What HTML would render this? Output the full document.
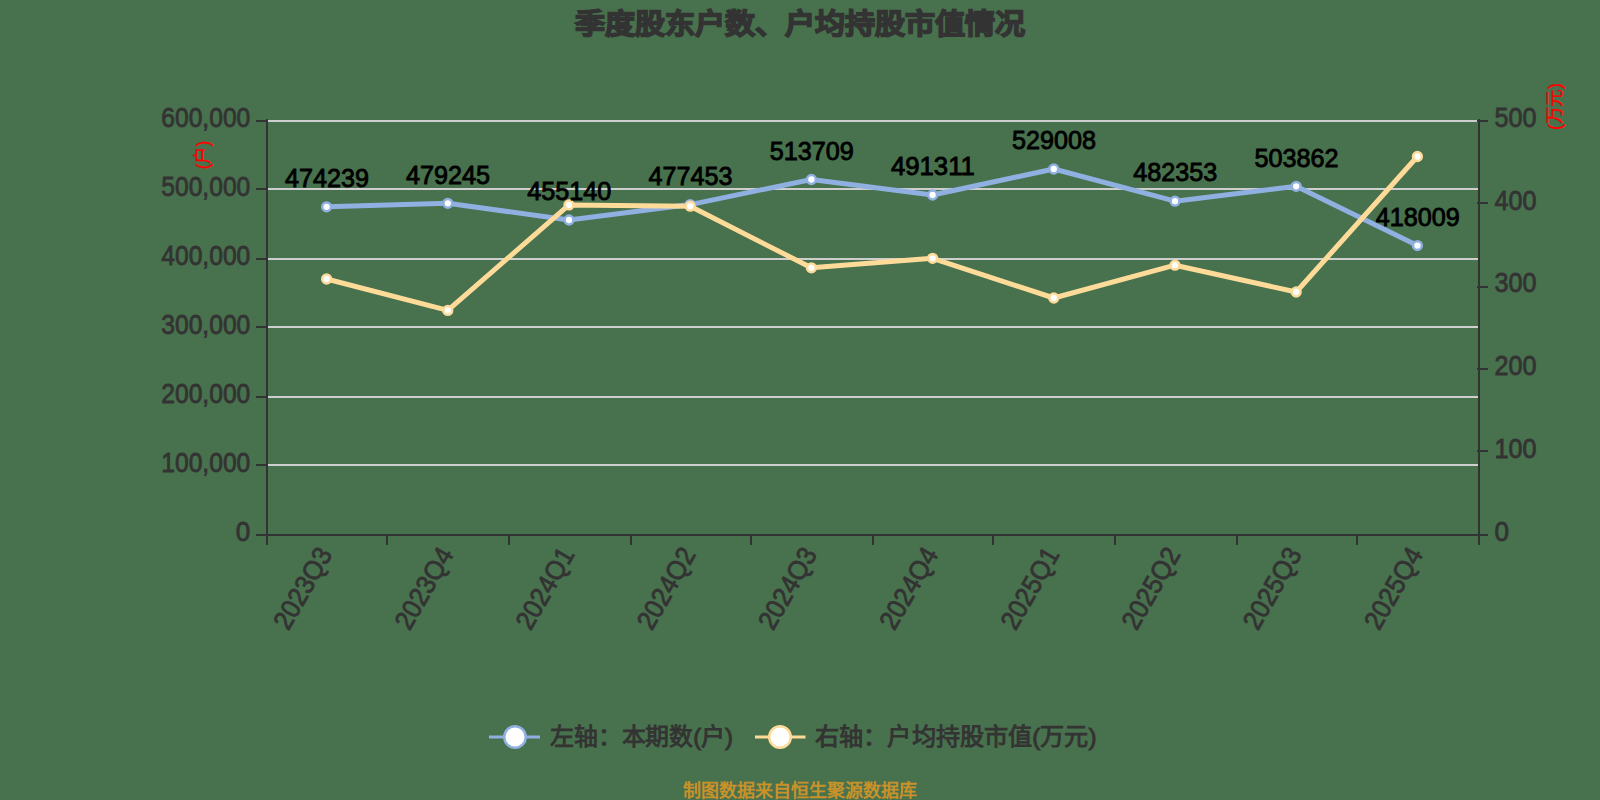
<!DOCTYPE html>
<html lang="zh-CN"><head><meta charset="utf-8"><title>季度股东户数、户均持股市值情况</title>
<style>html,body{margin:0;padding:0;background:#48714D;}body{width:1600px;height:800px;overflow:hidden;}svg{display:block;}text{font-family:"Liberation Sans",sans-serif;}</style>
</head><body>
<svg width="1600" height="800" viewBox="0 0 1600 800">
<rect x="0" y="0" width="1600" height="800" fill="#48714D"/>
<text x="800" y="33.5" text-anchor="middle" font-size="28" font-weight="bold" fill="#333" stroke="#333" stroke-width="1.5" textLength="450" lengthAdjust="spacingAndGlyphs">季度股东户数、户均持股市值情况</text>
<line x1="268" y1="121" x2="1478" y2="121" stroke="#CECECE" stroke-width="2"/>
<line x1="268" y1="189" x2="1478" y2="189" stroke="#CECECE" stroke-width="2"/>
<line x1="268" y1="259" x2="1478" y2="259" stroke="#CECECE" stroke-width="2"/>
<line x1="268" y1="327" x2="1478" y2="327" stroke="#CECECE" stroke-width="2"/>
<line x1="268" y1="397" x2="1478" y2="397" stroke="#CECECE" stroke-width="2"/>
<line x1="268" y1="465" x2="1478" y2="465" stroke="#CECECE" stroke-width="2"/>
<line x1="267" y1="119" x2="267" y2="536" stroke="#333333" stroke-width="2"/>
<line x1="1479" y1="119" x2="1479" y2="536" stroke="#333333" stroke-width="2"/>
<line x1="266" y1="535" x2="1480" y2="535" stroke="#333333" stroke-width="2"/>
<line x1="256" y1="121" x2="267" y2="121" stroke="#333333" stroke-width="2"/>
<text x="250.3" y="126.7" text-anchor="end" font-size="27" fill="#333" stroke="#333" stroke-width="0.8" textLength="89" lengthAdjust="spacingAndGlyphs">600,000</text>
<line x1="256" y1="189" x2="267" y2="189" stroke="#333333" stroke-width="2"/>
<text x="250.3" y="195.7" text-anchor="end" font-size="27" fill="#333" stroke="#333" stroke-width="0.8" textLength="89" lengthAdjust="spacingAndGlyphs">500,000</text>
<line x1="256" y1="259" x2="267" y2="259" stroke="#333333" stroke-width="2"/>
<text x="250.3" y="264.7" text-anchor="end" font-size="27" fill="#333" stroke="#333" stroke-width="0.8" textLength="89" lengthAdjust="spacingAndGlyphs">400,000</text>
<line x1="256" y1="327" x2="267" y2="327" stroke="#333333" stroke-width="2"/>
<text x="250.3" y="333.7" text-anchor="end" font-size="27" fill="#333" stroke="#333" stroke-width="0.8" textLength="89" lengthAdjust="spacingAndGlyphs">300,000</text>
<line x1="256" y1="397" x2="267" y2="397" stroke="#333333" stroke-width="2"/>
<text x="250.3" y="402.7" text-anchor="end" font-size="27" fill="#333" stroke="#333" stroke-width="0.8" textLength="89" lengthAdjust="spacingAndGlyphs">200,000</text>
<line x1="256" y1="465" x2="267" y2="465" stroke="#333333" stroke-width="2"/>
<text x="250.3" y="471.7" text-anchor="end" font-size="27" fill="#333" stroke="#333" stroke-width="0.8" textLength="89" lengthAdjust="spacingAndGlyphs">100,000</text>
<line x1="256" y1="535" x2="267" y2="535" stroke="#333333" stroke-width="2"/>
<text x="250.3" y="540.7" text-anchor="end" font-size="27" fill="#333" stroke="#333" stroke-width="0.8" textLength="14.5" lengthAdjust="spacingAndGlyphs">0</text>
<line x1="1477" y1="535" x2="1488" y2="535" stroke="#333333" stroke-width="2"/>
<text x="1494.5" y="540.7" font-size="27" fill="#333" stroke="#333" stroke-width="0.8" textLength="14.5" lengthAdjust="spacingAndGlyphs">0</text>
<line x1="1477" y1="451" x2="1488" y2="451" stroke="#333333" stroke-width="2"/>
<text x="1494.5" y="457.9" font-size="27" fill="#333" stroke="#333" stroke-width="0.8" textLength="42" lengthAdjust="spacingAndGlyphs">100</text>
<line x1="1477" y1="369" x2="1488" y2="369" stroke="#333333" stroke-width="2"/>
<text x="1494.5" y="375.1" font-size="27" fill="#333" stroke="#333" stroke-width="0.8" textLength="42" lengthAdjust="spacingAndGlyphs">200</text>
<line x1="1477" y1="287" x2="1488" y2="287" stroke="#333333" stroke-width="2"/>
<text x="1494.5" y="292.3" font-size="27" fill="#333" stroke="#333" stroke-width="0.8" textLength="42" lengthAdjust="spacingAndGlyphs">300</text>
<line x1="1477" y1="203" x2="1488" y2="203" stroke="#333333" stroke-width="2"/>
<text x="1494.5" y="209.5" font-size="27" fill="#333" stroke="#333" stroke-width="0.8" textLength="42" lengthAdjust="spacingAndGlyphs">400</text>
<line x1="1477" y1="121" x2="1488" y2="121" stroke="#333333" stroke-width="2"/>
<text x="1494.5" y="126.7" font-size="27" fill="#333" stroke="#333" stroke-width="0.8" textLength="42" lengthAdjust="spacingAndGlyphs">500</text>
<line x1="267" y1="535" x2="267" y2="545" stroke="#333333" stroke-width="2"/>
<line x1="387" y1="535" x2="387" y2="545" stroke="#333333" stroke-width="2"/>
<line x1="509" y1="535" x2="509" y2="545" stroke="#333333" stroke-width="2"/>
<line x1="631" y1="535" x2="631" y2="545" stroke="#333333" stroke-width="2"/>
<line x1="751" y1="535" x2="751" y2="545" stroke="#333333" stroke-width="2"/>
<line x1="873" y1="535" x2="873" y2="545" stroke="#333333" stroke-width="2"/>
<line x1="993" y1="535" x2="993" y2="545" stroke="#333333" stroke-width="2"/>
<line x1="1115" y1="535" x2="1115" y2="545" stroke="#333333" stroke-width="2"/>
<line x1="1237" y1="535" x2="1237" y2="545" stroke="#333333" stroke-width="2"/>
<line x1="1357" y1="535" x2="1357" y2="545" stroke="#333333" stroke-width="2"/>
<line x1="1479" y1="535" x2="1479" y2="545" stroke="#333333" stroke-width="2"/>
<text transform="translate(327.6,551) rotate(-60)" x="0" y="6.2" text-anchor="end" font-size="27" fill="#333" stroke="#333" stroke-width="0.8" textLength="89.5" lengthAdjust="spacingAndGlyphs">2023Q3</text>
<text transform="translate(448.8,551) rotate(-60)" x="0" y="6.2" text-anchor="end" font-size="27" fill="#333" stroke="#333" stroke-width="0.8" textLength="89.5" lengthAdjust="spacingAndGlyphs">2023Q4</text>
<text transform="translate(570,551) rotate(-60)" x="0" y="6.2" text-anchor="end" font-size="27" fill="#333" stroke="#333" stroke-width="0.8" textLength="89.5" lengthAdjust="spacingAndGlyphs">2024Q1</text>
<text transform="translate(691.2,551) rotate(-60)" x="0" y="6.2" text-anchor="end" font-size="27" fill="#333" stroke="#333" stroke-width="0.8" textLength="89.5" lengthAdjust="spacingAndGlyphs">2024Q2</text>
<text transform="translate(812.4,551) rotate(-60)" x="0" y="6.2" text-anchor="end" font-size="27" fill="#333" stroke="#333" stroke-width="0.8" textLength="89.5" lengthAdjust="spacingAndGlyphs">2024Q3</text>
<text transform="translate(933.6,551) rotate(-60)" x="0" y="6.2" text-anchor="end" font-size="27" fill="#333" stroke="#333" stroke-width="0.8" textLength="89.5" lengthAdjust="spacingAndGlyphs">2024Q4</text>
<text transform="translate(1054.8,551) rotate(-60)" x="0" y="6.2" text-anchor="end" font-size="27" fill="#333" stroke="#333" stroke-width="0.8" textLength="89.5" lengthAdjust="spacingAndGlyphs">2025Q1</text>
<text transform="translate(1176,551) rotate(-60)" x="0" y="6.2" text-anchor="end" font-size="27" fill="#333" stroke="#333" stroke-width="0.8" textLength="89.5" lengthAdjust="spacingAndGlyphs">2025Q2</text>
<text transform="translate(1297.2,551) rotate(-60)" x="0" y="6.2" text-anchor="end" font-size="27" fill="#333" stroke="#333" stroke-width="0.8" textLength="89.5" lengthAdjust="spacingAndGlyphs">2025Q3</text>
<text transform="translate(1418.4,551) rotate(-60)" x="0" y="6.2" text-anchor="end" font-size="27" fill="#333" stroke="#333" stroke-width="0.8" textLength="89.5" lengthAdjust="spacingAndGlyphs">2025Q4</text>
<text transform="translate(204,155) rotate(-90)" x="0" y="5" text-anchor="middle" font-size="18" fill="#FF0000" stroke="#FF0000" stroke-width="0.4" textLength="28.5" lengthAdjust="spacingAndGlyphs">(户)</text>
<text transform="translate(1556,106.5) rotate(-90)" x="0" y="5" text-anchor="middle" font-size="18" fill="#FF0000" stroke="#FF0000" stroke-width="0.4" textLength="47" lengthAdjust="spacingAndGlyphs">(万元)</text>
<polyline points="326.6,206.8 447.8,203.3 569.0,220.0 690.2,204.6 811.4,179.5 932.6,195.0 1053.8,169.0 1175.0,201.2 1296.2,186.3 1417.4,245.6" fill="none" stroke="#90B0E1" stroke-width="5" stroke-linejoin="bevel"/>
<polyline points="326.6,279.0 447.8,310.4 569.0,204.9 690.2,206.2 811.4,267.8 932.6,258.3 1053.8,298.0 1175.0,265.2 1296.2,292.0 1417.4,156.5" fill="none" stroke="#FFDB9A" stroke-width="5" stroke-linejoin="bevel"/>
<circle cx="326.6" cy="206.8" r="4.4" fill="#fff" stroke="#90B0E1" stroke-width="2.5"/>
<circle cx="447.8" cy="203.3" r="4.4" fill="#fff" stroke="#90B0E1" stroke-width="2.5"/>
<circle cx="569.0" cy="220.0" r="4.4" fill="#fff" stroke="#90B0E1" stroke-width="2.5"/>
<circle cx="690.2" cy="204.6" r="4.4" fill="#fff" stroke="#90B0E1" stroke-width="2.5"/>
<circle cx="811.4" cy="179.5" r="4.4" fill="#fff" stroke="#90B0E1" stroke-width="2.5"/>
<circle cx="932.6" cy="195.0" r="4.4" fill="#fff" stroke="#90B0E1" stroke-width="2.5"/>
<circle cx="1053.8" cy="169.0" r="4.4" fill="#fff" stroke="#90B0E1" stroke-width="2.5"/>
<circle cx="1175.0" cy="201.2" r="4.4" fill="#fff" stroke="#90B0E1" stroke-width="2.5"/>
<circle cx="1296.2" cy="186.3" r="4.4" fill="#fff" stroke="#90B0E1" stroke-width="2.5"/>
<circle cx="1417.4" cy="245.6" r="4.4" fill="#fff" stroke="#90B0E1" stroke-width="2.5"/>
<circle cx="326.6" cy="279.0" r="4.4" fill="#fff" stroke="#FFDB9A" stroke-width="2.5"/>
<circle cx="447.8" cy="310.4" r="4.4" fill="#fff" stroke="#FFDB9A" stroke-width="2.5"/>
<circle cx="569.0" cy="204.9" r="4.4" fill="#fff" stroke="#FFDB9A" stroke-width="2.5"/>
<circle cx="690.2" cy="206.2" r="4.4" fill="#fff" stroke="#FFDB9A" stroke-width="2.5"/>
<circle cx="811.4" cy="267.8" r="4.4" fill="#fff" stroke="#FFDB9A" stroke-width="2.5"/>
<circle cx="932.6" cy="258.3" r="4.4" fill="#fff" stroke="#FFDB9A" stroke-width="2.5"/>
<circle cx="1053.8" cy="298.0" r="4.4" fill="#fff" stroke="#FFDB9A" stroke-width="2.5"/>
<circle cx="1175.0" cy="265.2" r="4.4" fill="#fff" stroke="#FFDB9A" stroke-width="2.5"/>
<circle cx="1296.2" cy="292.0" r="4.4" fill="#fff" stroke="#FFDB9A" stroke-width="2.5"/>
<circle cx="1417.4" cy="156.5" r="4.4" fill="#fff" stroke="#FFDB9A" stroke-width="2.5"/>
<text x="326.9" y="187.0" text-anchor="middle" font-size="26.5" fill="#000" stroke="#000" stroke-width="0.9" textLength="84" lengthAdjust="spacingAndGlyphs">474239</text>
<text x="448.1" y="183.5" text-anchor="middle" font-size="26.5" fill="#000" stroke="#000" stroke-width="0.9" textLength="84" lengthAdjust="spacingAndGlyphs">479245</text>
<text x="569.3" y="200.2" text-anchor="middle" font-size="26.5" fill="#000" stroke="#000" stroke-width="0.9" textLength="84" lengthAdjust="spacingAndGlyphs">455140</text>
<text x="690.5" y="184.8" text-anchor="middle" font-size="26.5" fill="#000" stroke="#000" stroke-width="0.9" textLength="84" lengthAdjust="spacingAndGlyphs">477453</text>
<text x="811.7" y="159.7" text-anchor="middle" font-size="26.5" fill="#000" stroke="#000" stroke-width="0.9" textLength="84" lengthAdjust="spacingAndGlyphs">513709</text>
<text x="932.9" y="175.2" text-anchor="middle" font-size="26.5" fill="#000" stroke="#000" stroke-width="0.9" textLength="84" lengthAdjust="spacingAndGlyphs">491311</text>
<text x="1054.1" y="149.2" text-anchor="middle" font-size="26.5" fill="#000" stroke="#000" stroke-width="0.9" textLength="84" lengthAdjust="spacingAndGlyphs">529008</text>
<text x="1175.3" y="181.4" text-anchor="middle" font-size="26.5" fill="#000" stroke="#000" stroke-width="0.9" textLength="84" lengthAdjust="spacingAndGlyphs">482353</text>
<text x="1296.5" y="166.5" text-anchor="middle" font-size="26.5" fill="#000" stroke="#000" stroke-width="0.9" textLength="84" lengthAdjust="spacingAndGlyphs">503862</text>
<text x="1417.7" y="225.8" text-anchor="middle" font-size="26.5" fill="#000" stroke="#000" stroke-width="0.9" textLength="84" lengthAdjust="spacingAndGlyphs">418009</text>
<line x1="489" y1="737" x2="540" y2="737" stroke="#90B0E1" stroke-width="3"/>
<circle cx="515" cy="737" r="10.75" fill="#fff" stroke="#90B0E1" stroke-width="2.5"/>
<text x="550" y="744.5" font-size="24" fill="#333" stroke="#333" stroke-width="0.9" textLength="183" lengthAdjust="spacingAndGlyphs">左轴：本期数(户)</text>
<line x1="755" y1="737" x2="805.5" y2="737" stroke="#FFDB9A" stroke-width="3"/>
<circle cx="780" cy="737" r="10.75" fill="#fff" stroke="#FFDB9A" stroke-width="2.5"/>
<text x="815" y="744.5" font-size="24" fill="#333" stroke="#333" stroke-width="0.9" textLength="281.5" lengthAdjust="spacingAndGlyphs">右轴：户均持股市值(万元)</text>
<text x="800" y="796.5" text-anchor="middle" font-size="18" font-weight="bold" fill="#C8922A" textLength="234" lengthAdjust="spacingAndGlyphs">制图数据来自恒生聚源数据库</text>
</svg></body></html>
